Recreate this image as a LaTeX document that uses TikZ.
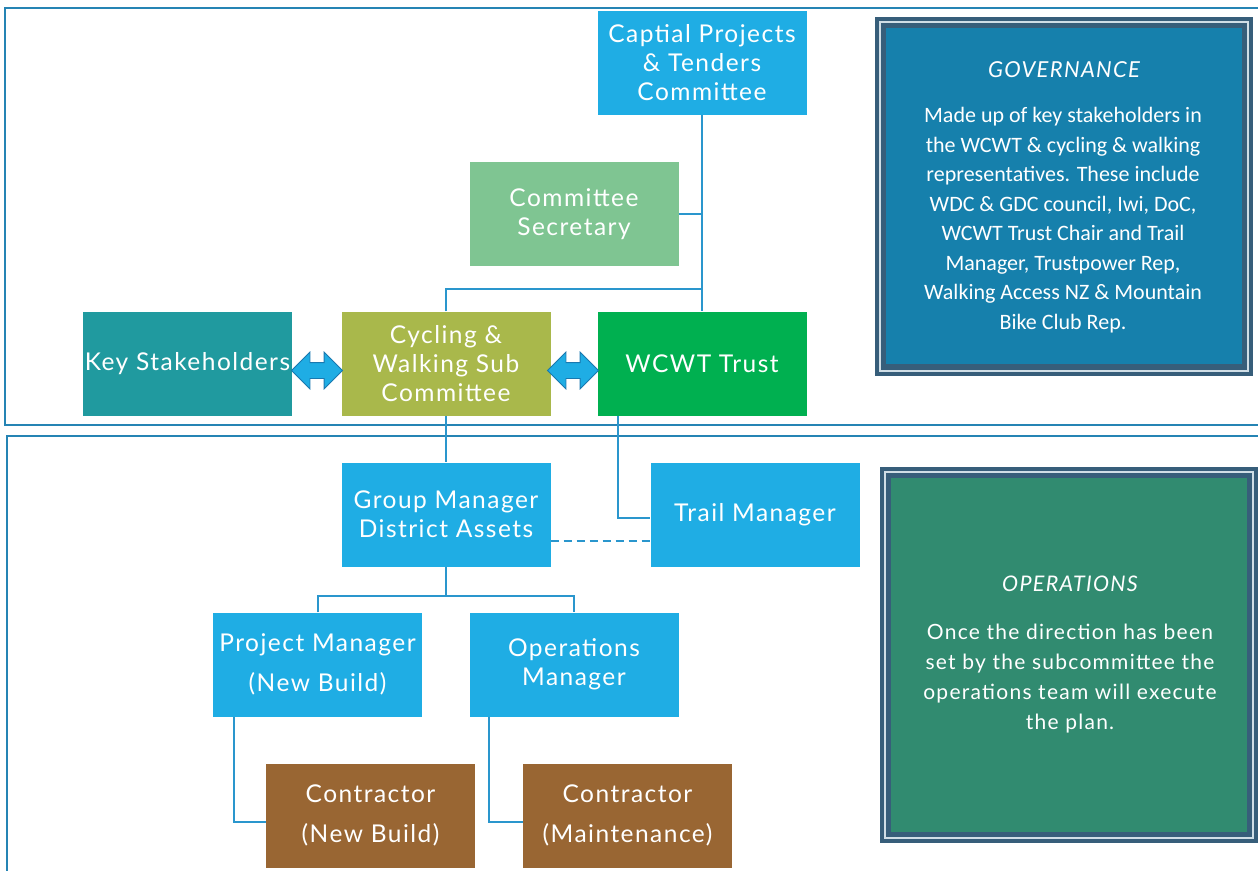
\documentclass[tikz,border=0pt]{standalone}
\usepackage{fontspec}
\newfontfamily\twc{Lato}[LetterSpace=6]
\newfontfamily\calfont{Carlito}
\usetikzlibrary{shapes.arrows}
\definecolor{capblue}{RGB}{31,173,228}
\definecolor{secgreen}{RGB}{127,197,146}
\definecolor{keyteal}{RGB}{32,154,159}
\definecolor{cycolive}{RGB}{169,184,75}
\definecolor{trustgreen}{RGB}{0,176,80}
\definecolor{brown}{RGB}{153,102,51}
\definecolor{govfill}{RGB}{22,128,172}
\definecolor{opsfill}{RGB}{49,139,112}
\definecolor{bdark}{RGB}{55,94,122}
\definecolor{blight}{RGB}{208,222,230}
\definecolor{framec}{RGB}{37,132,180}
\definecolor{linec}{RGB}{42,150,205}
\definecolor{arrowedge}{RGB}{25,120,175}
\tikzset{
  orgbox/.style={minimum width=209pt, minimum height=104pt, inner sep=0pt, text=white, align=center, font=\twc\fontsize{24.5}{29}\selectfont},
  conn/.style={draw=linec, line width=2pt},
  framebox/.style={draw=framec, line width=2pt},
  dblarrow/.style={double arrow, draw=arrowedge, fill=capblue, line width=0.8pt, minimum height=51pt, inner xsep=0pt, inner ysep=7.5pt, double arrow head extend=10.5pt},
}
\begin{document}
\begin{tikzpicture}[x=1pt,y=-1pt]
\useasboundingbox (0,0) rectangle (1258,870);
% frames
\draw[framebox] (5,8) rectangle (1275,425);
\draw[framebox] (7,436) rectangle (1275,885);

% governance box
\fill[bdark] (875,17) rectangle (1253,376);
\draw[blight, line width=1.5pt] (880,22) rectangle (1248,371);
\fill[govfill] (886,28) rectangle (1242,364);
\node[text=white, font=\twc\itshape\fontsize{22}{26}\selectfont] (govh) at (1064,70) {GOVERNANCE};
\node[text=white, align=center, font=\calfont\fontsize{22}{29.5}\selectfont] (govt) at (1063,220) {Made up of key stakeholders in\\the WCWT \& cycling \& walking\\representatives. These include\\WDC \& GDC council, Iwi, DoC,\\WCWT Trust Chair and Trail\\Manager, Trustpower Rep,\\Walking Access NZ \& Mountain\\Bike Club Rep.};

% operations box
\fill[bdark] (880,467) rectangle (1258,843);
\draw[blight, line width=1.5pt] (885,472) rectangle (1253,838);
\fill[opsfill] (891,478) rectangle (1247,832);
\node[text=white, font=\twc\itshape\fontsize{21.5}{26}\selectfont] (opsh) at (1070,584) {OPERATIONS};
\node[text=white, align=center, font=\twc\fontsize{21}{30}\selectfont] (opst) at (1070,679) {Once the direction has been\\set by the subcommittee the\\operations team will execute\\the plan.};

% org boxes
\node[orgbox, fill=capblue] (cap) at (702,62.5) {Captial Projects\\\& Tenders\\Committee};
\node[orgbox, fill=secgreen] (sec) at (574,214) {Committee\\Secretary};
\node[orgbox, fill=keyteal] (key) at (187.5,363.5) {Key Stakeholders};
\node[orgbox, fill=cycolive] (cyc) at (446,363.5) {Cycling \&\\Walking Sub\\Committee};
\node[orgbox, fill=trustgreen] (wcwt) at (702,363.5) {WCWT Trust};
\node[orgbox, fill=capblue] (gm) at (446,514.5) {Group Manager\\District Assets};
\node[orgbox, fill=capblue] (tm) at (755,514.5) {Trail Manager};
\node[orgbox, fill=capblue] (pm) at (317.5,664.5) {Project Manager\\[11pt](New Build)};
\node[orgbox, fill=capblue] (om) at (574,664.5) {Operations\\Manager};
\node[orgbox, fill=brown] (cn) at (370.5,815.5) {Contractor\\[11pt](New Build)};
\node[orgbox, fill=brown] (cm) at (627.5,815.5) {Contractor\\[11pt](Maintenance)};

% junctions
\coordinate (j1) at (702,289);
\coordinate (j2) at (446,596);

% connectors
\draw[conn] (cap.south) -- (wcwt.north);
\draw[conn] (sec.east) -- (sec.east -| cap.south);
\draw[conn] (cyc.north) |- (j1);
\draw[conn] (cyc.south) -- (gm.north);
\draw[conn] ([xshift=21pt]wcwt.south west) |- ([yshift=-3.5pt]tm.west);
\draw[conn, dashed, dash pattern=on 8pt off 5pt] ([yshift=-26.5pt]gm.east) -- ([yshift=-26.5pt]tm.west);
\draw[conn] (gm.south) -- (j2);
\draw[conn] (pm.north) |- (j2) -| (om.north);
\draw[conn] ([xshift=21pt]pm.south west) |- ([yshift=-6.5pt]cn.west);
\draw[conn] ([xshift=19.5pt]om.south west) |- ([yshift=-6.5pt]cm.west);

% double arrows
\node[dblarrow] (a1) at (317,370.5) {};
\node[dblarrow] (a2) at (573,370.5) {};
\end{tikzpicture}
\end{document}
